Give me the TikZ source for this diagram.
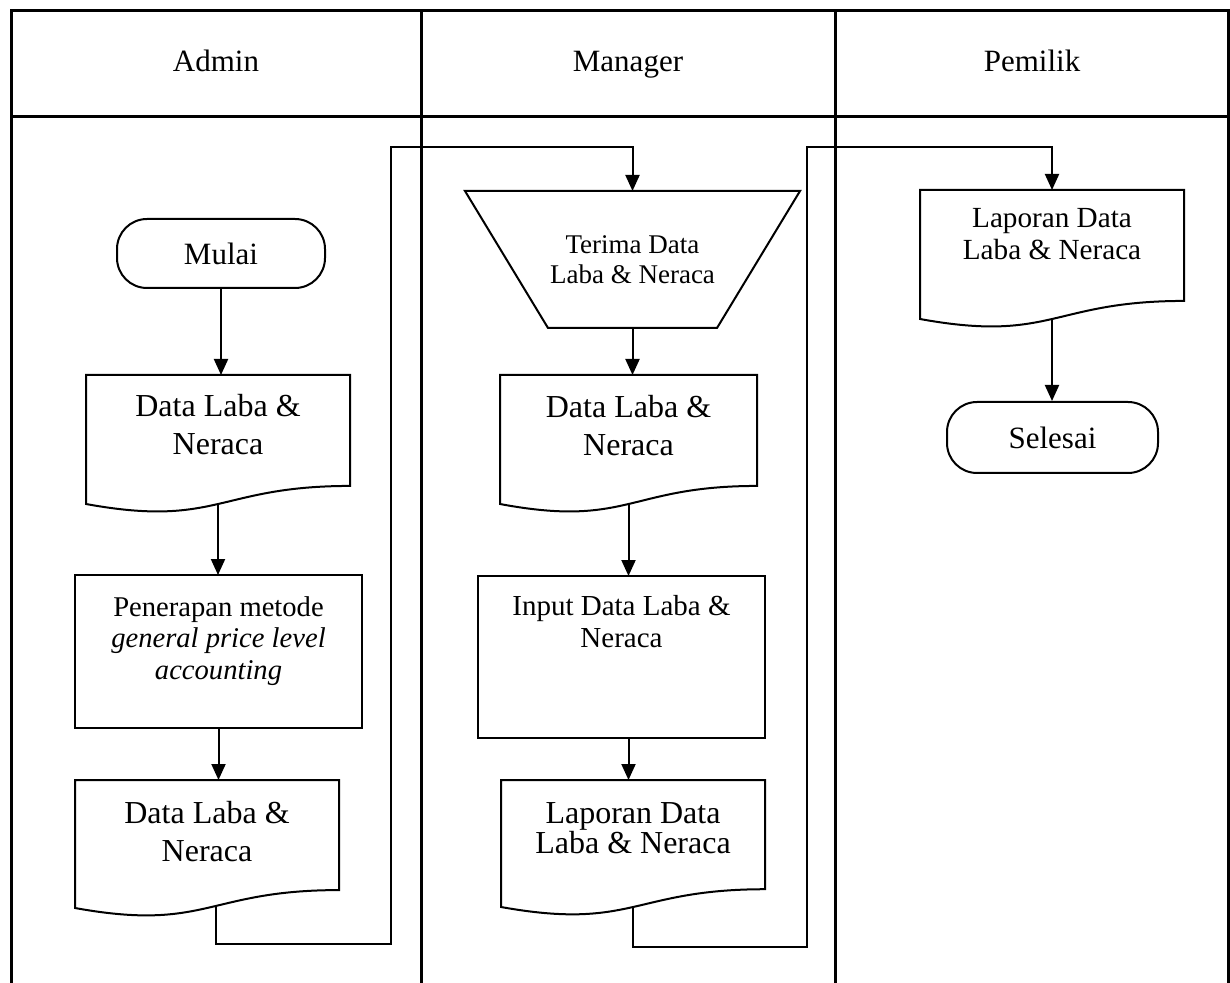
\documentclass[tikz,border=0pt]{standalone}
\usepackage{fontspec}
\setmainfont{Liberation Serif}
\usetikzlibrary{positioning,calc,arrows.meta}

\newcommand{\bigf}{\fontsize{16}{19}\selectfont}
\newcommand{\midf}{\fontsize{14.5}{15.75}\selectfont}
\newcommand{\smallf}{\fontsize{13.5}{15}\selectfont}

%document symbol with wavy bottom, drawn round an empty node
\newcommand{\docout}[1]{%
	\draw[shapeline] (#1.north west) -- (#1.north east)
		-- ($(#1.north east)!0.86!(#1.south east)$)
		.. controls ($(#1.north)!0.86!(#1.south)$) and ($(#1.north)!1.187!(#1.south)$)
		.. (#1.south west) -- cycle;}
%manual input symbol (trapezium, wide side on top)
\newcommand{\trapout}[2]{%
	\draw[shapeline] (#1.north west) -- (#1.north east)
		-- ([xshift=-#2]#1.south east) -- ([xshift=#2]#1.south west) -- cycle;}

\tikzset{
	lane/.style={line width=1.5pt},
	shapeline/.style={line width=1pt},
	flow/.style={line width=1pt, -{Triangle[width=7pt,length=8pt]}},
	head/.style={anchor=base, font=\fontsize{15.5}{19}\selectfont},
	term/.style={draw, line width=1pt, rounded corners=15pt, inner sep=0pt, font=\fontsize{15.5}{19}\selectfont},
	docbox/.style 2 args={minimum width=#1, minimum height=#2, outer sep=0pt, inner sep=0pt},
	procbox/.style 2 args={draw, line width=1pt, minimum width=#1, minimum height=#2, outer sep=0pt, inner sep=0pt},
	intext/.style n args={3}{label={[below=#1, font=#2, align=center, inner sep=0pt]north:#3}},
}

\begin{document}
\begin{tikzpicture}[x=0.5pt, y=-0.5pt]
	\useasboundingbox (0,0) rectangle (1230,983);

	%the swimlane table, open at the bottom
	\draw[lane] (11,983) -- (11,11) -- (1228,11) -- (1228,983);
	\draw[lane] (11,117) -- (1228,117);
	\draw[lane] (421,11) -- (421,983);
	\draw[lane] (835,11) -- (835,983);
	\node[head] (hAdmin) at (216,72) {Admin};
	\node[head] (hManager) at (628,72) {Manager};
	\node[head] (hPemilik) at (1032,72) {Pemilik};

	%Admin lane
	\node[term, minimum width=104pt, minimum height=34.5pt] (mulai) at (221,253.5) {Mulai};
	\node[docbox={132pt}{64.5pt}, intext={9.5pt}{\bigf}{Data Laba \&\\Neraca}] (dataA1) at (218,439.5) {};
	\docout{dataA1}
	\node[procbox={143.5pt}{76.5pt}, intext={10.5pt}{\fontsize{14.3}{15.75}\selectfont}{Penerapan metode\\\textit{general price level}\\\textit{accounting}}] (apply) at (218.5,651.5) {};
	\node[docbox={132pt}{64pt}, intext={10.5pt}{\bigf}{Data Laba \&\\Neraca}] (dataA2) at (207,844) {};
	\docout{dataA2}
	\draw[flow] (mulai.south) -- (mulai.south |- dataA1.north);
	\draw[flow] (dataA1.south) -- (dataA1.south |- apply.north);
	\draw[flow] (apply.south) -- (apply.south |- dataA2.north);

	%Manager lane
	\node[docbox={167.5pt}{68.5pt}, font=\smallf, align=center] (recv) at (632.5,259.5) {Terima Data\\Laba \& Neraca};
	\trapout{recv}{41.5pt}
	\node[docbox={128.5pt}{64.5pt}, intext={10pt}{\bigf}{Data Laba \&\\Neraca}] (dataM1) at (628.5,439.5) {};
	\docout{dataM1}
	\node[procbox={143.5pt}{81pt}, intext={9.5pt}{\midf}{Input Data Laba \&\\Neraca}] (input) at (621.5,657) {};
	\node[docbox={132pt}{63.5pt}, intext={11pt}{\fontsize{16}{15}\selectfont}{Laporan Data\\Laba \& Neraca}] (lapM) at (633,843.5) {};
	\docout{lapM}
	\draw[flow] (recv.south) -- (recv.south |- dataM1.north);
	\draw[flow] (dataM1.south) -- (dataM1.south |- input.north);
	\draw[flow] (dataM1.south |- input.south) -- (dataM1.south |- lapM.north);

	%Pemilik lane
	\node[docbox={132pt}{64.5pt}, intext={9pt}{\fontsize{14.6}{16}\selectfont}{Laporan Data\\Laba \& Neraca}] (lapP) at (1052,254.5) {};
	\docout{lapP}
	\node[term, minimum width=105.5pt, minimum height=35.5pt] (selesai) at (1052.5,437.5) {Selesai};
	\draw[flow] (lapP.south) -- (lapP.south |- selesai.north);

	%hand-overs between the lanes
	\coordinate (downA) at (391,944);
	\coordinate (upA) at (391,147);
	\draw[flow] ([shift={(4.5pt,1pt)}]dataA2.south) |- (downA) -- (upA) -| (recv.north);
	\coordinate (downB) at (807,947);
	\coordinate (upB) at (807,147);
	\draw[flow] (lapM.south) |- (downB) -- (upB) -| (lapP.north);
\end{tikzpicture}
\end{document}
